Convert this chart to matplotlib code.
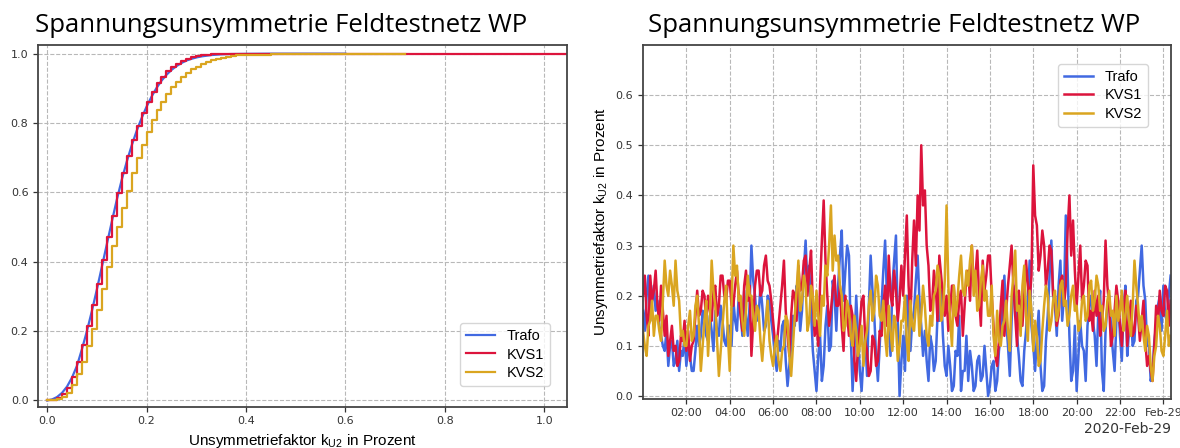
import numpy as np
import matplotlib
matplotlib.use('Agg')
import matplotlib.pyplot as plt

plt.rcParams['font.family'] = ['DejaVu Sans']
plt.rcParams['mathtext.default'] = 'regular'

# ---------------- data: left panel (empirical CDFs) ----------------
cdf_x_trafo = [0.00, 0.01, 0.02, 0.03, 0.04, 0.05, 0.06, 0.07, 0.08, 0.09,
               0.10, 0.11, 0.12, 0.13, 0.14, 0.15, 0.16, 0.17, 0.18, 0.19,
               0.20, 0.21, 0.22, 0.23, 0.24, 0.25, 0.26, 0.27, 0.28, 0.29,
               0.30, 0.31, 0.32, 0.33, 0.34, 0.35, 0.37, 0.40, 0.45, 0.60]
cdf_trafo = [0.000, 0.003, 0.010, 0.022, 0.040, 0.066, 0.100, 0.148, 0.200, 0.258,
             0.320, 0.385, 0.450, 0.515, 0.578, 0.636, 0.688, 0.735, 0.777, 0.814,
             0.847, 0.876, 0.901, 0.922, 0.939, 0.953, 0.964, 0.973, 0.980, 0.985,
             0.989, 0.992, 0.994, 0.996, 0.997, 0.998, 0.999, 0.9995, 1.000, 1.000]

cdf_x_kvs1 = [0.00, 0.01, 0.02, 0.03, 0.04, 0.05, 0.06, 0.07, 0.08, 0.09,
              0.10, 0.11, 0.12, 0.13, 0.14, 0.15, 0.16, 0.17, 0.18, 0.19,
              0.20, 0.21, 0.22, 0.23, 0.24, 0.25, 0.26, 0.27, 0.28, 0.29,
              0.30, 0.31, 0.32, 0.33, 0.34, 0.35, 0.40, 0.50, 1.10]
cdf_kvs1 = [0.000, 0.001, 0.006, 0.019, 0.036, 0.069, 0.112, 0.160, 0.215, 0.275,
            0.337, 0.405, 0.470, 0.532, 0.597, 0.656, 0.704, 0.751, 0.790, 0.828,
            0.862, 0.890, 0.914, 0.933, 0.949, 0.961, 0.971, 0.979, 0.985, 0.990,
            0.993, 0.995, 0.997, 0.998, 0.9985, 0.999, 0.9995, 1.000, 1.000]

cdf_x_kvs2 = [0.00, 0.01, 0.02, 0.03, 0.04, 0.05, 0.06, 0.07, 0.08, 0.09,
              0.10, 0.11, 0.12, 0.13, 0.14, 0.15, 0.16, 0.17, 0.18, 0.19,
              0.20, 0.21, 0.22, 0.23, 0.24, 0.25, 0.26, 0.27, 0.28, 0.29,
              0.30, 0.31, 0.32, 0.33, 0.34, 0.35, 0.36, 0.37, 0.38, 0.39,
              0.40, 0.45, 0.50, 0.55, 0.72]
cdf_kvs2 = [0.000, 0.001, 0.004, 0.010, 0.022, 0.045, 0.075, 0.112, 0.157, 0.205,
            0.260, 0.320, 0.385, 0.445, 0.500, 0.555, 0.605, 0.655, 0.700, 0.738,
            0.773, 0.808, 0.837, 0.862, 0.884, 0.903, 0.919, 0.933, 0.945, 0.955,
            0.963, 0.970, 0.976, 0.981, 0.985, 0.988, 0.991, 0.993, 0.995, 0.996,
            0.997, 0.998, 0.999, 0.9995, 1.000]

# ---------------- data: right panel (5-min values, 2020-02-29) ----------------
ts_trafo = [
    0.17, 0.13, 0.20, 0.24, 0.15, 0.19, 0.22, 0.17, 0.19, 0.14, 0.12, 0.10,  # 00h
    0.09, 0.13, 0.06, 0.10, 0.11, 0.06, 0.07, 0.11, 0.05, 0.09, 0.08, 0.12,  # 01h
    0.06, 0.10, 0.08, 0.05, 0.05, 0.09, 0.14, 0.10, 0.12, 0.17, 0.16, 0.12,  # 02h
    0.11, 0.16, 0.13, 0.09, 0.17, 0.13, 0.12, 0.18, 0.15, 0.11, 0.10, 0.14,  # 03h
    0.14, 0.10, 0.19, 0.15, 0.13, 0.20, 0.17, 0.12, 0.21, 0.16, 0.12, 0.18,  # 04h
    0.30, 0.23, 0.20, 0.15, 0.16, 0.22, 0.18, 0.13, 0.14, 0.20, 0.19, 0.15,  # 05h
    0.12, 0.08, 0.05, 0.11, 0.09, 0.14, 0.15, 0.07, 0.02, 0.06, 0.10, 0.16,  # 06h
    0.14, 0.22, 0.20, 0.13, 0.17, 0.25, 0.31, 0.22, 0.26, 0.17, 0.09, 0.05,  # 07h
    0.01, 0.08, 0.12, 0.03, 0.06, 0.14, 0.18, 0.09, 0.10, 0.23, 0.20, 0.13,  # 08h
    0.22, 0.28, 0.33, 0.19, 0.25, 0.30, 0.28, 0.12, 0.01, 0.09, 0.20, 0.12,  # 09h
    0.05, 0.01, 0.08, 0.12, 0.04, 0.18, 0.28, 0.21, 0.16, 0.08, 0.03, 0.10,  # 10h
    0.18, 0.25, 0.31, 0.20, 0.14, 0.08, 0.22, 0.27, 0.32, 0.15, 0.00, 0.07,  # 11h
    0.12, 0.05, 0.20, 0.14, 0.09, 0.15, 0.17, 0.23, 0.28, 0.19, 0.14, 0.08,  # 12h
    0.13, 0.07, 0.03, 0.12, 0.10, 0.05, 0.07, 0.16, 0.15, 0.21, 0.12, 0.06,  # 13h
    0.04, 0.10, 0.06, 0.01, 0.02, 0.09, 0.08, 0.16, 0.01, 0.05, 0.05, 0.12,  # 14h
    0.03, 0.09, 0.06, 0.01, 0.02, 0.07, 0.08, 0.03, 0.04, 0.10, 0.05, 0.00,  # 15h
    0.02, 0.06, 0.07, 0.01, 0.03, 0.09, 0.12, 0.18, 0.24, 0.15, 0.10, 0.04,  # 16h
    0.15, 0.22, 0.19, 0.12, 0.08, 0.03, 0.02, 0.09, 0.13, 0.20, 0.27, 0.14,  # 17h
    0.10, 0.05, 0.12, 0.17, 0.06, 0.01, 0.02, 0.11, 0.16, 0.24, 0.31, 0.20,  # 18h
    0.18, 0.12, 0.22, 0.27, 0.15, 0.20, 0.36, 0.25, 0.12, 0.03, 0.05, 0.14,  # 19h
    0.01, 0.08, 0.15, 0.10, 0.09, 0.03, 0.14, 0.18, 0.20, 0.15, 0.12, 0.06,  # 20h
    0.17, 0.21, 0.05, 0.01, 0.13, 0.18, 0.20, 0.14, 0.09, 0.05, 0.15, 0.19,  # 21h
    0.12, 0.07, 0.18, 0.22, 0.08, 0.13, 0.16, 0.10, 0.11, 0.19, 0.20, 0.25,  # 22h
    0.30, 0.22, 0.19, 0.10, 0.10, 0.03, 0.05, 0.11, 0.14, 0.18, 0.20, 0.13,  # 23h
    0.22, 0.16, 0.15, 0.20, 0.24]
ts_kvs1 = [
    0.20, 0.24, 0.16, 0.12, 0.24, 0.19, 0.21, 0.25, 0.18, 0.15, 0.22, 0.17,  # 00h
    0.12, 0.16, 0.08, 0.11, 0.14, 0.09, 0.10, 0.06, 0.07, 0.12, 0.11, 0.15,  # 01h
    0.09, 0.13, 0.07, 0.10, 0.11, 0.16, 0.21, 0.16, 0.17, 0.21, 0.20, 0.15,  # 02h
    0.20, 0.17, 0.15, 0.21, 0.22, 0.16, 0.18, 0.24, 0.24, 0.20, 0.19, 0.23,  # 03h
    0.23, 0.18, 0.18, 0.22, 0.25, 0.20, 0.16, 0.13, 0.22, 0.25, 0.19, 0.22,  # 04h
    0.08, 0.15, 0.22, 0.25, 0.25, 0.20, 0.21, 0.26, 0.28, 0.23, 0.22, 0.19,  # 05h
    0.15, 0.11, 0.10, 0.14, 0.18, 0.22, 0.27, 0.17, 0.12, 0.08, 0.16, 0.21,  # 06h
    0.20, 0.15, 0.26, 0.21, 0.22, 0.27, 0.28, 0.20, 0.25, 0.29, 0.18, 0.12,  # 07h
    0.15, 0.10, 0.22, 0.31, 0.39, 0.27, 0.20, 0.14, 0.17, 0.21, 0.24, 0.18,  # 08h
    0.18, 0.22, 0.14, 0.09, 0.20, 0.16, 0.12, 0.18, 0.16, 0.07, 0.03, 0.10,  # 09h
    0.14, 0.19, 0.20, 0.11, 0.09, 0.04, 0.05, 0.12, 0.11, 0.06, 0.07, 0.13,  # 10h
    0.12, 0.18, 0.22, 0.14, 0.28, 0.20, 0.18, 0.25, 0.21, 0.15, 0.19, 0.26,  # 11h
    0.20, 0.28, 0.36, 0.22, 0.15, 0.27, 0.35, 0.26, 0.40, 0.33, 0.50, 0.38,  # 12h
    0.41, 0.30, 0.26, 0.17, 0.18, 0.25, 0.22, 0.15, 0.28, 0.24, 0.20, 0.16,  # 13h
    0.20, 0.13, 0.17, 0.22, 0.22, 0.16, 0.14, 0.19, 0.21, 0.12, 0.18, 0.24,  # 14h
    0.25, 0.19, 0.30, 0.22, 0.24, 0.29, 0.20, 0.14, 0.27, 0.21, 0.24, 0.28,  # 15h
    0.28, 0.20, 0.14, 0.08, 0.06, 0.11, 0.18, 0.23, 0.12, 0.17, 0.22, 0.26,  # 16h
    0.30, 0.22, 0.16, 0.10, 0.21, 0.17, 0.14, 0.20, 0.27, 0.22, 0.19, 0.24,  # 17h
    0.46, 0.36, 0.34, 0.25, 0.28, 0.33, 0.30, 0.22, 0.25, 0.30, 0.29, 0.20,  # 18h
    0.20, 0.14, 0.16, 0.23, 0.24, 0.18, 0.22, 0.33, 0.40, 0.28, 0.35, 0.25,  # 19h
    0.18, 0.24, 0.30, 0.19, 0.22, 0.27, 0.26, 0.15, 0.17, 0.13, 0.21, 0.16,  # 20h
    0.20, 0.12, 0.15, 0.19, 0.31, 0.22, 0.18, 0.10, 0.12, 0.17, 0.22, 0.19,  # 21h
    0.14, 0.10, 0.17, 0.21, 0.10, 0.15, 0.19, 0.12, 0.13, 0.18, 0.16, 0.11,  # 22h
    0.15, 0.19, 0.11, 0.06, 0.08, 0.05, 0.03, 0.10, 0.18, 0.14, 0.21, 0.17,  # 23h
    0.16, 0.22, 0.21, 0.14, 0.19]
ts_kvs2 = [
    0.13, 0.10, 0.08, 0.14, 0.15, 0.19, 0.12, 0.16, 0.16, 0.13, 0.11, 0.19,  # 00h
    0.27, 0.22, 0.20, 0.25, 0.22, 0.18, 0.27, 0.21, 0.19, 0.12, 0.13, 0.10,  # 01h
    0.10, 0.14, 0.17, 0.11, 0.12, 0.18, 0.20, 0.14, 0.05, 0.10, 0.15, 0.19,  # 02h
    0.08, 0.15, 0.27, 0.21, 0.18, 0.11, 0.04, 0.09, 0.14, 0.19, 0.22, 0.12,  # 03h
    0.05, 0.18, 0.30, 0.24, 0.26, 0.19, 0.20, 0.15, 0.12, 0.17, 0.24, 0.20,  # 04h
    0.20, 0.16, 0.13, 0.18, 0.17, 0.11, 0.07, 0.12, 0.15, 0.19, 0.11, 0.08,  # 05h
    0.06, 0.10, 0.12, 0.07, 0.05, 0.09, 0.10, 0.16, 0.15, 0.08, 0.04, 0.10,  # 06h
    0.16, 0.21, 0.27, 0.17, 0.19, 0.24, 0.22, 0.13, 0.15, 0.22, 0.20, 0.14,  # 07h
    0.21, 0.16, 0.12, 0.20, 0.18, 0.26, 0.24, 0.30, 0.38, 0.25, 0.32, 0.27,  # 08h
    0.28, 0.22, 0.20, 0.13, 0.14, 0.19, 0.17, 0.12, 0.10, 0.16, 0.13, 0.08,  # 09h
    0.10, 0.14, 0.06, 0.11, 0.13, 0.18, 0.21, 0.15, 0.17, 0.24, 0.22, 0.16,  # 10h
    0.15, 0.19, 0.12, 0.08, 0.18, 0.13, 0.09, 0.16, 0.14, 0.07, 0.10, 0.15,  # 11h
    0.15, 0.20, 0.11, 0.07, 0.19, 0.14, 0.13, 0.18, 0.20, 0.12, 0.16, 0.22,  # 12h
    0.18, 0.12, 0.10, 0.16, 0.14, 0.20, 0.21, 0.26, 0.24, 0.15, 0.17, 0.23,  # 13h
    0.38, 0.22, 0.15, 0.10, 0.22, 0.16, 0.19, 0.24, 0.28, 0.21, 0.20, 0.25,  # 14h
    0.22, 0.27, 0.30, 0.20, 0.25, 0.17, 0.18, 0.23, 0.26, 0.19, 0.21, 0.16,  # 15h
    0.16, 0.22, 0.12, 0.08, 0.17, 0.11, 0.10, 0.14, 0.15, 0.19, 0.13, 0.09,  # 16h
    0.20, 0.24, 0.29, 0.17, 0.18, 0.12, 0.22, 0.26, 0.16, 0.11, 0.21, 0.17,  # 17h
    0.09, 0.15, 0.12, 0.06, 0.07, 0.13, 0.18, 0.22, 0.20, 0.13, 0.15, 0.19,  # 18h
    0.21, 0.15, 0.17, 0.22, 0.23, 0.18, 0.19, 0.14, 0.16, 0.20, 0.22, 0.17,  # 19h
    0.18, 0.13, 0.14, 0.19, 0.20, 0.15, 0.16, 0.22, 0.23, 0.17, 0.19, 0.24,  # 20h
    0.22, 0.17, 0.18, 0.13, 0.14, 0.19, 0.21, 0.16, 0.17, 0.12, 0.20, 0.15,  # 21h
    0.17, 0.21, 0.13, 0.16, 0.20, 0.15, 0.12, 0.18, 0.27, 0.22, 0.18, 0.13,  # 22h
    0.16, 0.12, 0.09, 0.14, 0.12, 0.06, 0.03, 0.08, 0.10, 0.16, 0.14, 0.09,  # 23h
    0.08, 0.12, 0.17, 0.10, 0.12]
sample_minutes = 5
time_tick_hours = [2, 4, 6, 8, 10, 12, 14, 16, 18, 20, 22, 24]
time_tick_labels = ['02:00', '04:00', '06:00', '08:00', '10:00', '12:00',
                    '14:00', '16:00', '18:00', '20:00', '22:00', 'Feb-29']
date_label = '2020-Feb-29'

series_names = ['Trafo', 'KVS1', 'KVS2']
series_colors = ['#4169E1', '#DC143C', '#DAA520']
title = 'Spannungsunsymmetrie Feldtestnetz WP'
value_label = 'Unsymmetriefaktor k$_{U2}$ in Prozent'

# ---------------- figure ----------------
W, H = 1180, 448
fig = plt.figure(figsize=(W / 100, H / 100), dpi=100)
ax1 = fig.add_axes([38.2 / W, (H - 406.7) / H, 528.4 / W, 361.7 / H])
ax2 = fig.add_axes([643.0 / W, (H - 398.5) / H, 527.6 / W, 353.5 / H])

label_font = dict(family='Liberation Sans', size=11)
title_font = dict(family='Open Sans', size=18.5)


def style_axes(ax):
    ax.grid(True, linestyle='--', color='#b8b8b8', linewidth=0.8)
    ax.set_axisbelow(True)
    for sp in ax.spines.values():
        sp.set_color('#444444')
        sp.set_linewidth(1.3)
    ax.tick_params(labelsize=8, colors='#333333', length=3.5, width=0.9)


# left: CDF
ax1.plot(cdf_x_trafo, cdf_trafo, color=series_colors[0], lw=1.6, label=series_names[0])
ax1.step(cdf_x_kvs1, cdf_kvs1, where='post', color=series_colors[1], lw=1.6, label=series_names[1])
ax1.step(cdf_x_kvs2, cdf_kvs2, where='post', color=series_colors[2], lw=1.6, label=series_names[2])
ax1.set_xlim(-0.018, 1.045)
ax1.set_ylim(-0.018, 1.025)
ax1.set_xticks([0.0, 0.2, 0.4, 0.6, 0.8, 1.0])
ax1.set_yticks([0.0, 0.2, 0.4, 0.6, 0.8, 1.0])
style_axes(ax1)
ax1.set_xlabel(value_label, fontdict=label_font, labelpad=4)
ax1.set_title(title, fontdict=title_font, x=0.460, pad=9.4)
ax1.legend(loc='lower right', bbox_to_anchor=(0.968, 0.058), borderaxespad=0,
           prop=dict(family='Liberation Sans', size=10.5), labelspacing=0.3,
           handlelength=2.0)

# right: time series
t_hours = np.arange(len(ts_trafo)) * sample_minutes / 60.0
for vals, name, col in zip([ts_trafo, ts_kvs1, ts_kvs2], series_names, series_colors):
    ax2.plot(t_hours, vals, color=col, lw=1.8, label=name)
ax2.set_xlim(t_hours[0], t_hours[-1])
ax2.set_ylim(-0.005, 0.7)
ax2.set_yticks([0.0, 0.1, 0.2, 0.3, 0.4, 0.5, 0.6])
ax2.set_xticks(time_tick_hours)
ax2.set_xticklabels(time_tick_labels)
style_axes(ax2)
ax2.set_ylabel(value_label, fontdict=label_font)
ax2.set_title(title, fontdict=title_font, x=0.4767, pad=9.4)
ax2.text(1.0, -0.085, date_label, transform=ax2.transAxes, ha='right', va='center',
         fontsize=10, color='#333333')
ax2.legend(loc='upper right', bbox_to_anchor=(0.957, 0.946), borderaxespad=0,
           prop=dict(family='Liberation Sans', size=10.5), labelspacing=0.3,
           handlelength=2.0)

fig.savefig('out.png', dpi=100)
